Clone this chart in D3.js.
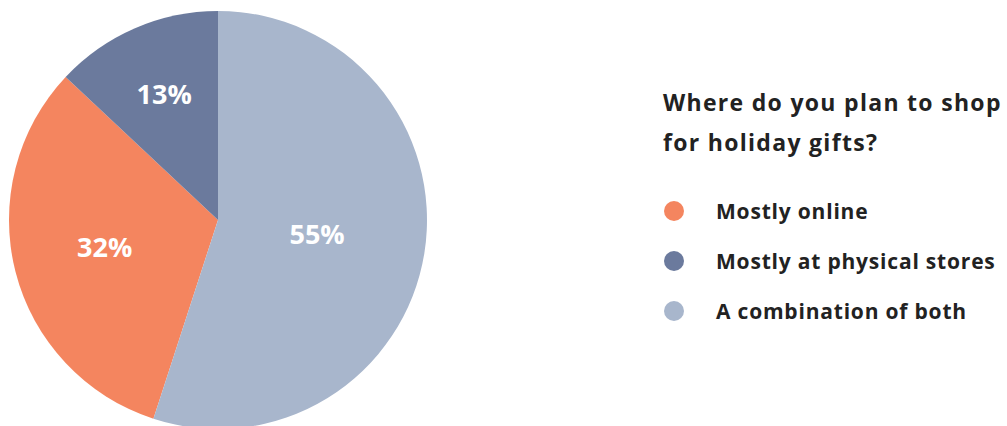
<!DOCTYPE html>
<html>
<head>
<meta charset="utf-8">
<script src="https://cdn.jsdelivr.net/npm/d3@7"></script>
<style>
  html, body { margin: 0; padding: 0; background: #fff; }
  svg { display: block; font-family: "Open Sans", Lato, sans-serif; }
</style>
</head>
<body>
<div id="chart"></div>
<script>
// Survey answers, in legend order
const categories = ['Mostly online', 'Mostly at physical stores', 'A combination of both'];
const shares = [32, 13, 55];
const colors = ['#F4855F', '#6B7A9D', '#A8B6CC'];
const titleLines = ['Where do you plan to shop', 'for holiday gifts?'];

const width = 1007;
const height = 426;
const cx = 218, cy = 220, radius = 209;

const svg = d3.select('#chart')
  .append('svg')
  .attr('width', width)
  .attr('height', height);

const data = categories.map((name, i) => ({ name, value: shares[i], color: colors[i] }));

// Combination slice starts at 12 o'clock, so the first legend slice starts after it
const start = 2 * Math.PI * shares[2] / d3.sum(shares);
const pie = d3.pie()
  .value(d => d.value)
  .sort(null)
  .startAngle(start)
  .endAngle(start + 2 * Math.PI);

const arc = d3.arc().innerRadius(0).outerRadius(radius);

// label sits near the slice's area centroid, but not too close to the middle
const labelPos = d => {
  const half = (d.endAngle - d.startAngle) / 2;
  const rr = Math.max(2 * radius * Math.sin(half) / (3 * half), radius * 0.48);
  const a = (d.startAngle + d.endAngle) / 2;
  return [rr * Math.sin(a), -rr * Math.cos(a)];
};

const g = svg.append('g')
  .attr('transform', `translate(${cx},${cy})`);

const arcs = pie(data);

g.selectAll('path')
  .data(arcs)
  .join('path')
  .attr('d', arc)
  .attr('fill', d => d.data.color);

g.selectAll('text')
  .data(arcs)
  .join('text')
  .attr('transform', d => `translate(${labelPos(d)})`)
  .attr('text-anchor', 'middle')
  .attr('dy', '0.3em')
  .attr('font-size', '27px')
  .attr('font-weight', 700)
  .attr('fill', '#fff')
  .text(d => `${d.data.value}%`);

// Title
svg.append('g')
  .selectAll('text')
  .data(titleLines)
  .join('text')
  .attr('x', 663)
  .attr('y', (d, i) => 111 + i * 40)
  .attr('font-size', '23px')
  .attr('font-weight', 700)
  .attr('letter-spacing', '1.3px')
  .attr('fill', '#222')
  .text(d => d);

// Legend
const legend = svg.append('g')
  .selectAll('g')
  .data(data)
  .join('g')
  .attr('transform', (d, i) => `translate(674,${211 + i * 50})`);

legend.append('circle')
  .attr('r', 10)
  .attr('fill', d => d.color);

legend.append('text')
  .attr('x', 42)
  .attr('y', 8)
  .attr('font-size', '21px')
  .attr('font-weight', 700)
  .attr('letter-spacing', '0.8px')
  .attr('fill', '#222')
  .text(d => d.name);
</script>
</body>
</html>
